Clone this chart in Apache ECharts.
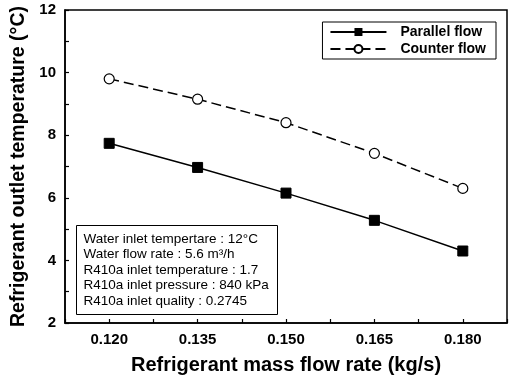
<!DOCTYPE html>
<html>
<head>
<meta charset="utf-8">
<script src="https://cdn.jsdelivr.net/npm/echarts@6/dist/echarts.min.js"></script>
<style>
  html, body { margin: 0; padding: 0; background: #fff; }
  #chart { width: 511px; height: 378px; }
</style>
</head>
<body>
<div id="chart"></div>
<script>
// mass flow rate (kg/s)
const flowRates = [0.120, 0.135, 0.150, 0.165, 0.180]
// refrigerant outlet temperature (°C)
const parallelFlow = [7.74, 6.97, 6.15, 5.28, 4.30]
const counterFlow = [9.80, 9.15, 8.40, 7.42, 6.30]

const infoLines = [
  'Water inlet tempertare : 12°C',
  'Water flow rate : 5.6 m³/h',
  'R410a inlet temperature : 1.7',
  'R410a inlet pressure : 840 kPa',
  'R410a inlet quality : 0.2745',
]

const FONT = '"Liberation Sans", Arial, sans-serif'

const chart = echarts.init(document.getElementById('chart'))

const option = {
  backgroundColor: '#fff',
  animation: false,
  textStyle: { fontFamily: FONT, color: '#000' },
  grid: {
    left: 65,
    right: 4,
    top: 10,
    bottom: 55,
    outerBoundsMode: 'none',
    show: true,
    borderColor: '#000',
    borderWidth: 1.5,
  },
  legend: {
    orient: 'vertical',
    right: 15,
    top: 22,
    borderColor: '#000',
    borderWidth: 1,
    borderRadius: 0,
    padding: [3, 10, 3, 7],
    itemGap: 3,
    itemWidth: 56,
    itemHeight: 10,
    textStyle: { fontFamily: FONT, fontWeight: 'bold', fontSize: 14, color: '#000', padding: [0, 0, 0, 9] },
    data: ['Parallel flow', 'Counter flow'],
  },
  xAxis: {
    type: 'value',
    min: 0.1125,
    max: 0.1875,
    interval: 0.0075,
    name: 'Refrigerant mass flow rate (kg/s)',
    nameLocation: 'middle',
    nameGap: 32,
    nameTextStyle: { fontFamily: FONT, fontWeight: 'bold', fontSize: 20, color: '#000' },
    axisLine: { show: true, onZero: false, lineStyle: { color: '#000', width: 1.5 } },
    axisTick: { show: true, inside: true, length: 4, lineStyle: { color: '#000', width: 1.2 } },
    splitLine: { show: false },
    axisLabel: {
      fontFamily: FONT,
      fontWeight: 'bold',
      fontSize: 15,
      color: '#000',
      margin: 9,
      formatter: v => {
        const k = Math.round(v / 0.0075)
        return k % 2 === 0 ? v.toFixed(3) : ''
      },
    },
  },
  yAxis: {
    type: 'value',
    min: 2,
    max: 12,
    interval: 1,
    name: 'Refrigerant outlet temperature (°C)',
    nameLocation: 'middle',
    nameGap: 31,
    nameTextStyle: { fontFamily: FONT, fontWeight: 'bold', fontSize: 19.5, color: '#000' },
    axisLine: { show: true, lineStyle: { color: '#000', width: 1.5 } },
    axisTick: { show: true, inside: true, length: 4, lineStyle: { color: '#000', width: 1.2 } },
    splitLine: { show: false },
    axisLabel: {
      fontFamily: FONT,
      fontWeight: 'bold',
      fontSize: 15,
      color: '#000',
      margin: 9,
      formatter: v => (Math.round(v) % 2 === 0 ? String(v) : ''),
    },
  },
  series: [
    {
      name: 'Parallel flow',
      type: 'line',
      data: flowRates.map((x, i) => [x, parallelFlow[i]]),
      symbol: 'rect',
      symbolSize: 10,
      itemStyle: { color: '#000', borderColor: '#000' },
      lineStyle: { color: '#000', width: 1.5, type: 'solid' },
    },
    {
      name: 'Counter flow',
      type: 'line',
      data: flowRates.map((x, i) => [x, counterFlow[i]]),
      symbol: 'circle',
      symbolSize: 10,
      itemStyle: { color: '#fff', borderColor: '#000', borderWidth: 1.2 },
      lineStyle: { color: '#000', width: 1.5, type: [10, 5] },
    },
  ],
  graphic: [
    {
      type: 'group',
      left: 76,
      top: 225,
      children: [
        {
          type: 'rect',
          shape: { x: 0, y: 0, width: 201, height: 89 },
          style: { fill: '#fff', stroke: '#000', lineWidth: 1 },
        },
        {
          type: 'text',
          x: 7,
          y: 6,
          style: {
            text: infoLines.join('\n'),
            font: '13.5px ' + FONT,
            fill: '#000',
            lineHeight: 15.5,
          },
        },
      ],
    },
  ],
}

chart.setOption(option)
</script>
</body>
</html>
